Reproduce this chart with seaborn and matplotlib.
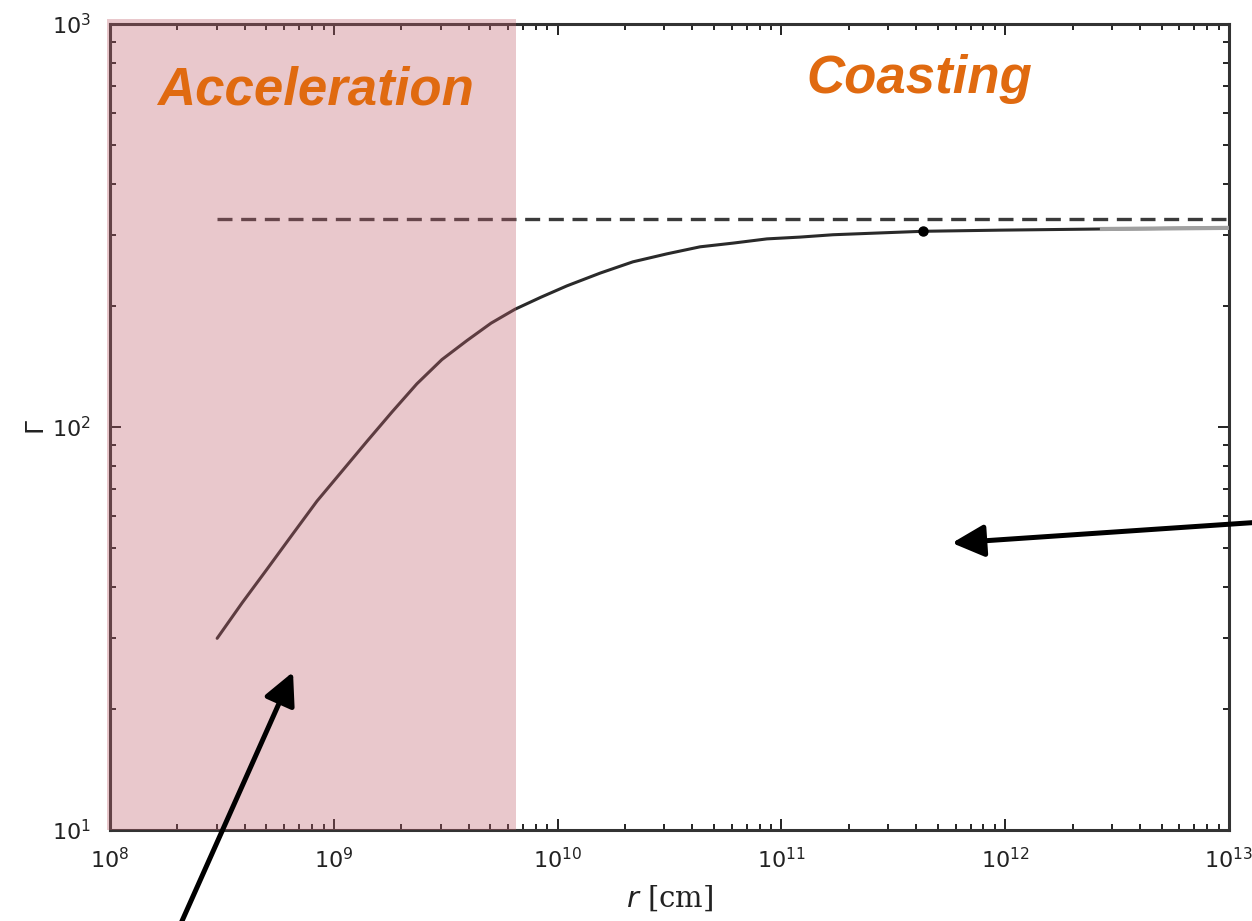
import numpy as np
import pandas as pd
import matplotlib
matplotlib.use("Agg")
import matplotlib.pyplot as plt
import seaborn as sns
from matplotlib.patches import FancyArrowPatch

# Lorentz factor of the outflow versus radius
radius_cm = [3.01e8, 3.89e8, 5.03e8, 6.51e8, 8.41e8, 1.09e9, 1.41e9, 1.82e9,
             2.35e9, 3.04e9, 3.94e9, 5.04e9, 6.45e9, 8.43e9, 1.10e10, 1.55e10,
             2.17e10, 3.08e10, 4.33e10, 6.08e10, 8.62e10, 1.21e11, 1.70e11,
             2.70e11, 4.30e11, 9.48e11, 2.65e12, 1.0e13]
gamma = [29.9, 36.6, 44.4, 54.0, 65.5, 77.8, 92.3, 109,
         128, 147, 164, 181, 196, 210, 224, 241,
         257, 269, 280, 286, 293, 296, 300,
         303, 306, 308, 310, 312]

# asymptotic Lorentz factor (dashed line) and the marked saturation point
gamma_inf = 328
r_dash = [3.01e8, 1.0e13]
r_sat, gamma_sat = 4.30e11, 306

# end of the acceleration phase
r_accel_end = 6.5e9

df = pd.DataFrame({"r": radius_cm, "Gamma": gamma})

sns.set_style("ticks")
plt.rcParams["font.family"] = ["DejaVu Sans"]
plt.rcParams["mathtext.fontset"] = "dejavusans"

fig = plt.figure(figsize=(12.52, 9.21), dpi=100)
ax = fig.add_axes([0.0879, 0.0988, 0.8937, 0.8751])

sns.lineplot(data=df, x="r", y="Gamma", ax=ax, color="#2a2a2a", lw=2.2,
             estimator=None, sort=True, zorder=3)
# far coasting tail drawn lighter
tail = df[df["r"] >= 2.65e12]
ax.plot(tail["r"], tail["Gamma"], color="#a0a0a0", lw=3.0, zorder=3.1,
        solid_capstyle="butt")
ax.plot(r_dash, [gamma_inf, gamma_inf], color="#3a3a3a", lw=2.4,
        dashes=(4.5, 2.6), zorder=3)
ax.plot([r_sat], [gamma_sat], "o", color="black", ms=6.5, zorder=4)

ax.set_xscale("log")
ax.set_yscale("log")
ax.set_xlim(1e8, 1e13)
ax.set_ylim(1e1, 1e3)

ax.tick_params(which="both", direction="in", top=True, right=True,
               colors="#222222", labelsize=16, width=1.4)
ax.tick_params(axis="x", which="major", pad=12)
ax.tick_params(axis="y", which="major", pad=14)
ax.tick_params(which="major", length=8)
ax.tick_params(which="minor", length=4.5)
ax.xaxis.set_minor_locator(matplotlib.ticker.LogLocator(base=10, subs=np.arange(2, 10)))
ax.yaxis.set_minor_locator(matplotlib.ticker.LogLocator(base=10, subs=np.arange(2, 10)))
ax.xaxis.set_minor_formatter(matplotlib.ticker.NullFormatter())
ax.yaxis.set_minor_formatter(matplotlib.ticker.NullFormatter())
for sp in ax.spines.values():
    sp.set_linewidth(2.2)
    sp.set_color("#333333")
    sp.set_visible(True)

ax.set_xlabel(r"$\mathit{r}$ [cm]", fontsize=21, family="DejaVu Serif", color="#222222", labelpad=8)
ax.set_ylabel(r"$\Gamma$", fontsize=18, color="#222222", labelpad=2)

# acceleration zone shading, laid over the frame
ax.axvspan(0.97e8, r_accel_end, ymin=0, ymax=1.006, color="#c0606c",
           alpha=0.34, lw=0, zorder=5, clip_on=False)

orange = "#e06a10"
ax.text(0.1835, 0.918, "Acceleration", transform=ax.transAxes, ha="center", va="center",
        fontsize=38, fontweight="bold", fontstyle="italic", color=orange,
        family="Liberation Sans", zorder=6)
ax.text(0.723, 0.932, "Coasting", transform=ax.transAxes, ha="center", va="center",
        fontsize=38, fontweight="bold", fontstyle="italic", color=orange,
        family="Liberation Sans", zorder=6)

W, H = 1252, 921


def fig_arrow(tail_px, head_px):
    a = FancyArrowPatch((tail_px[0] / W, 1 - tail_px[1] / H), (head_px[0] / W, 1 - head_px[1] / H),
                        transform=fig.transFigure, arrowstyle="-|>,head_length=1.4,head_width=0.7",
                        mutation_scale=14, lw=3.6, color="black", shrinkA=0, shrinkB=0,
                        zorder=10)
    fig.add_artist(a)


fig_arrow((1262, 522), (952, 543))
fig_arrow((178, 930), (293, 672))

fig.savefig("out.png", dpi=100)
